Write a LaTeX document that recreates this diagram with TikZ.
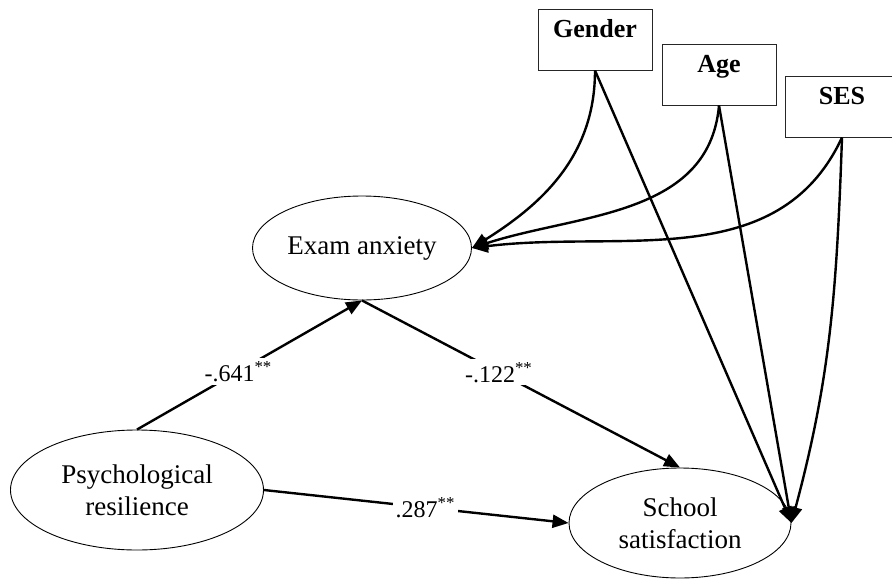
\documentclass[tikz,border=0pt]{standalone}
\usepackage{fontspec}
\setmainfont{Liberation Serif}
\usetikzlibrary{arrows.meta,shapes.geometric}

\begin{document}
\begin{tikzpicture}[x=1pt,y=-1pt,
    var/.style={draw,ellipse,line width=0.9pt,inner sep=0pt,align=center,font=\fontsize{27}{32}\selectfont},
    cov/.style={draw=black!85,rectangle,line width=1pt,minimum width=114pt,inner ysep=0pt,text height=28pt,text depth=33pt,anchor=base,font=\fontsize{26}{30}\selectfont\bfseries},
    path/.style={line width=2.4pt,-{Triangle[length=16pt,width=13pt]}},
    coef/.style={fill=white,inner sep=3pt,font=\fontsize{24}{26}\selectfont}]

    \clip (0,0) rectangle (892,581);

    % Nodes
    \node[var,minimum width=219pt,minimum height=104pt] (exam) at (362,248) {Exam anxiety};
    \node[var,minimum width=253pt,minimum height=120pt] (psy) at (137,490) {Psychological\\resilience};
    \node[var,minimum width=222pt,minimum height=110pt] (school) at (680,523) {School\\satisfaction};

    \node[cov] (gender) at (595,37) {Gender};
    \node[cov] (age) at (719,72) {Age};
    \node[cov] (ses) at (842,104) {SES};

    % Edges
    \draw[path] (psy.north) -- node[coef,pos=0.45] {-.641\textsuperscript{**}} (exam.south);
    \draw[path] (exam.south) -- node[coef,pos=0.43] {-.122\textsuperscript{**}} (school.north);
    \draw[path] (psy.east) -- node[coef,pos=0.53] {.287\textsuperscript{**}} (school.west);

    \draw[path] (gender.south) to[out=-90,in=32] (exam.east);
    \draw[path] (age.south) to[out=-95,in=18] (exam.east);
    \draw[path] (ses.south) to[out=-115,in=7] (exam.east);

    \draw[path] (gender.south) -- (school.east);
    \draw[path] (age.south) -- (school.east);
    \draw[path] (ses.south) to[out=-92,in=75] (school.east);

\end{tikzpicture}
\end{document}
